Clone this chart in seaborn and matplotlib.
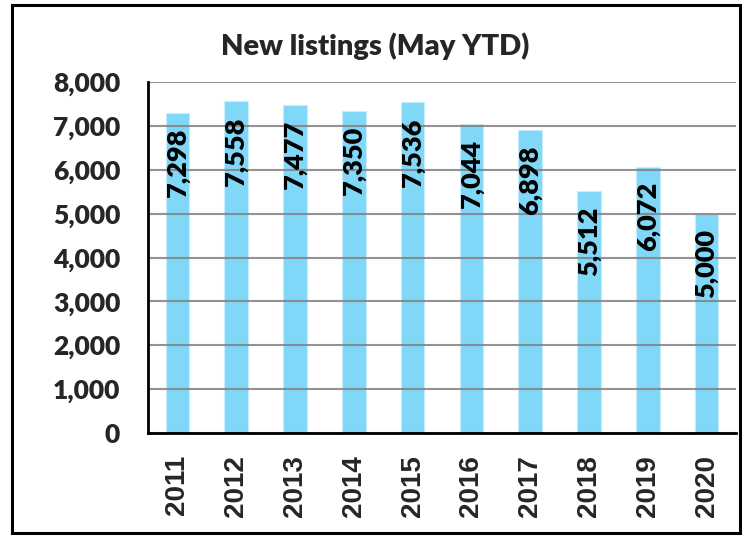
import matplotlib
matplotlib.use("Agg")
import matplotlib.pyplot as plt
import seaborn as sns
import pandas as pd
from matplotlib.patches import Rectangle
from matplotlib.ticker import FixedLocator, FuncFormatter
from matplotlib import font_manager

years = ["2011", "2012", "2013", "2014", "2015", "2016", "2017", "2018", "2019", "2020"]
listings = [7298, 7558, 7477, 7350, 7536, 7044, 6898, 5512, 6072, 5000]
title = "New listings (May YTD)"
yticks = [0, 1000, 2000, 3000, 4000, 5000, 6000, 7000, 8000]

sns.set_style("white")
plt.rcParams['font.family'] = ['Lato', 'DejaVu Sans']

lato = sorted({(f.name, f.weight, f.style) for f in font_manager.fontManager.ttflist if 'Lato' in f.name or 'Open Sans' in f.name})
print(lato)

df = pd.DataFrame({"year": years, "listings": listings})

fig = plt.figure(figsize=(7.48, 5.36), dpi=100)
ax = fig.add_axes([148/748, 1-433/536, (736-148)/748, (433-82)/536])

sns.barplot(data=df, x="year", y="listings", color="#80D7F7", saturation=1,
            width=0.4, ax=ax, zorder=1)
for p in ax.patches:
    p.set_edgecolor("#C8EEFB")
    p.set_linewidth(0.8)

ax.set_ylim(0, 8000)
ax.set_xlim(-0.5, len(years) - 0.5)
ax.set_yticks(yticks)
ax.yaxis.set_major_formatter(FuncFormatter(lambda v, pos: f"{int(v):,}"))
ax.set_xlabel("")
ax.set_ylabel("")

ax.grid(axis="y", color="#808080", linewidth=1.5, alpha=0.85, zorder=2)
ax.set_axisbelow(False)
ax.grid(axis="x", visible=False)

for s in ["top", "right"]:
    ax.spines[s].set_visible(False)
for s in ["left", "bottom"]:
    ax.spines[s].set_color("black")
    ax.spines[s].set_linewidth(2)
    ax.spines[s].set_zorder(3)

W = "heavy"
ax.tick_params(axis="y", direction="out", length=7, width=1.8, color="black",
               pad=13, labelsize=19)
for lab in ax.get_yticklabels():
    lab.set_fontweight(W)
    lab.set_family(["Lato", "DejaVu Sans"])

ax.tick_params(axis="x", which="major", length=0, pad=16, labelsize=20,
               labelrotation=90)
for lab in ax.get_xticklabels():
    lab.set_fontweight("bold")
    lab.set_family(["Liberation Sans", "DejaVu Sans"])
ax.xaxis.set_minor_locator(FixedLocator([i - 0.5 for i in range(len(years) + 1)]))
ax.tick_params(axis="x", which="minor", direction="out", length=7, width=1.8,
               color="black")

for i, v in enumerate(listings):
    ax.annotate(f"{v:,}", xy=(i, v), xytext=(0, -11), textcoords="offset points",
                rotation=90, ha="center", va="top", fontsize=19.5,
                fontweight=W, family=["Lato", "DejaVu Sans"], color="black",
                zorder=4)

fig.text(375/748, 1-46/536, title, ha="center", va="center", fontsize=21,
         fontweight=W, family=["Lato", "DejaVu Sans"])

fig.patches.append(Rectangle((12/748, 1-533/536), (740-12)/748, (533-5)/536,
                             transform=fig.transFigure, fill=False,
                             edgecolor="black", linewidth=2.2))

fig.savefig("out.png", dpi=100)
